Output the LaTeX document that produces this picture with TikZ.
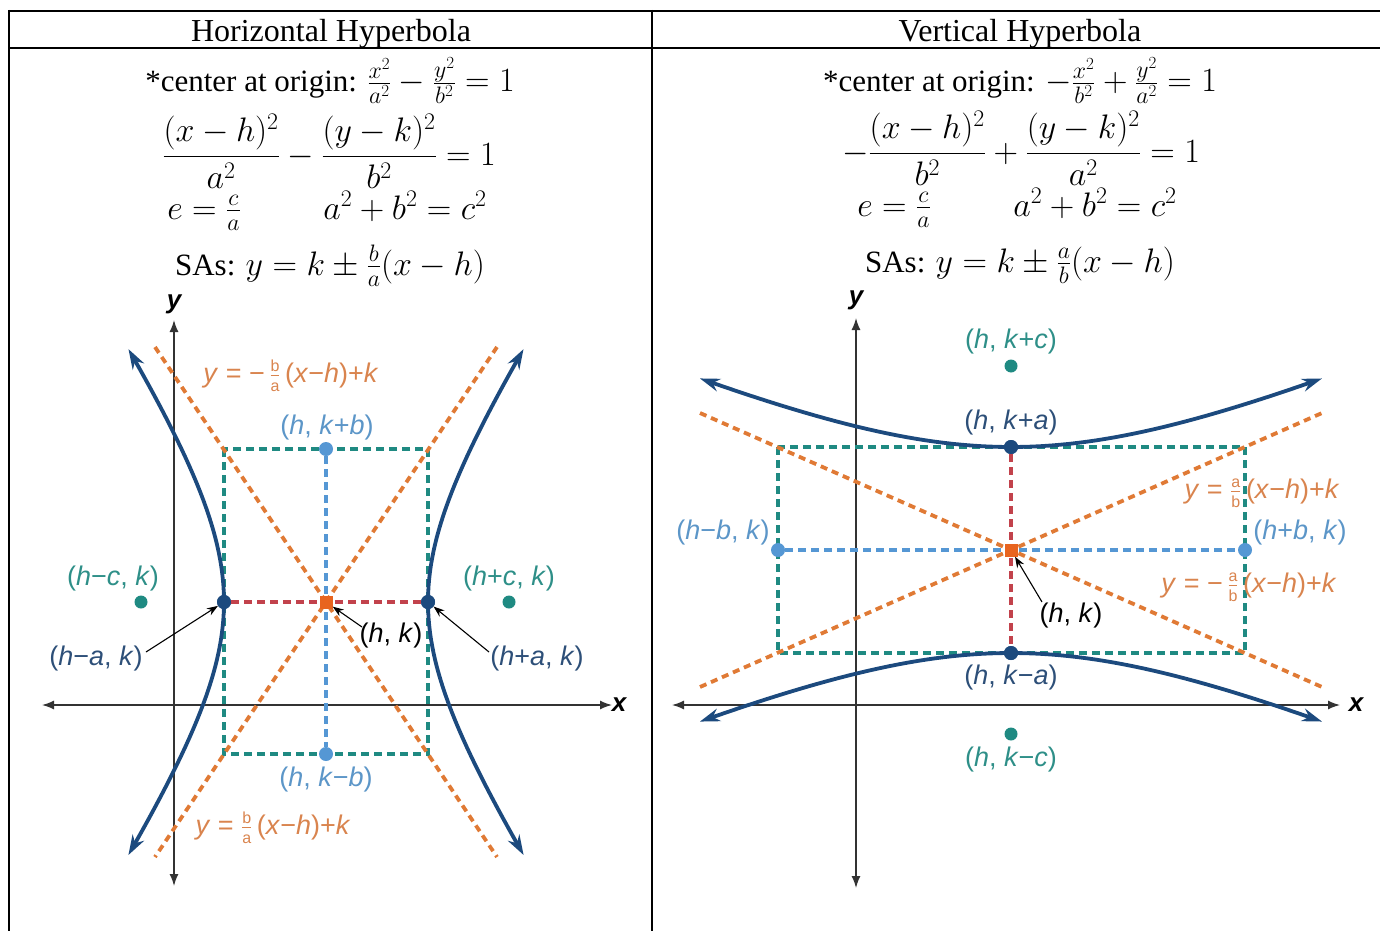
\documentclass[tikz,border=0pt]{standalone}
\usepackage{fix-cm}
\usepackage{amsmath}
\usepackage{fontspec}
\setmainfont{Liberation Serif}
\newfontfamily\lsans{Liberation Sans}
\usetikzlibrary{arrows.meta}
\definecolor{navy}{HTML}{1C4A7E}
\definecolor{orng}{HTML}{E07A35}
\definecolor{tealc}{HTML}{1F8A82}
\definecolor{lblue}{HTML}{5597D4}
\definecolor{redc}{HTML}{C2424C}
\definecolor{ctrc}{HTML}{E8641F}
\definecolor{olabel}{HTML}{D9844E}
\definecolor{tlabel}{HTML}{2E8F88}
\definecolor{blabel}{HTML}{5C96C8}
\definecolor{nlabel}{HTML}{2D4F78}
\newcommand{\asyfrac}[2]{\ensuremath{\genfrac{}{}{0.9pt}{}{\hbox{\fontsize{16}{16}\selectfont #1}}{\hbox{\fontsize{16}{16}\selectfont #2}}}}
\newcommand{\hypmath}[1]{{\fontsize{34}{40}\selectfont$#1$}}
\begin{document}
\begin{tikzpicture}[x=1pt,y=-1pt,
  body/.style={font=\fontsize{31}{36}\selectfont, inner sep=0pt, anchor=base},
  lab/.style={font=\lsans\fontsize{27}{32}\selectfont, inner sep=0pt},
  axlab/.style={font=\lsans\bfseries\itshape\fontsize{26}{30}\selectfont, inner sep=0pt},
  asym/.style={orng, line width=3.8pt, dash pattern=on 7pt off 5pt},
  boxl/.style={tealc, line width=3.2pt, dash pattern=on 8pt off 5pt},
  bline/.style={lblue, line width=3.2pt, dash pattern=on 8pt off 5pt},
  rline/.style={redc, line width=3.2pt, dash pattern=on 8pt off 5pt},
  curve/.style={navy, line width=3.8pt, {Stealth[length=20pt,width=13pt]}-{Stealth[length=20pt,width=13pt]}},
  axis/.style={black!80, line width=1.4pt, {Latex[length=12pt,width=9pt]}-{Latex[length=12pt,width=9pt]}},
  ptr/.style={black, line width=1.1pt, -{Stealth[length=11pt,width=8pt]}},
  dot/.style={circle, fill, inner sep=0pt, minimum size=14pt},
  sq/.style={rectangle, fill=ctrc, inner sep=0pt, minimum size=13pt}]
\useasboundingbox (0,0) rectangle (1380,931);
% table
\draw[line width=2pt] (8,11) -- (1380,11);
\draw[line width=2pt] (8,48) -- (1380,48);
\draw[line width=2pt] (9,10) -- (9,931);
\draw[line width=2pt] (652,10) -- (652,931);
\node[body, font=\fontsize{32}{36}\selectfont] (hH) at (331,42) {Horizontal Hyperbola};
\node[body, font=\fontsize{32}{36}\selectfont] (hV) at (1020,42) {Vertical Hyperbola};
% left formulas
\node[body] (l1) at (330,92) {*center at origin: \hypmath{\frac{x^2}{a^2}-\frac{y^2}{b^2}=1}};
\node[body] (l2) at (329,165) {\hypmath{\dfrac{(x-h)^2}{a^2}-\dfrac{(y-k)^2}{b^2}=1}};
\node[body] (l3a) at (204,219) {\hypmath{e=\frac{c}{a}}};
\node[body] (l3b) at (405,219) {\hypmath{a^2+b^2=c^2}};
\node[body] (l4) at (330,275) {SAs: \hypmath{y=k\pm\frac{b}{a}(x-h)}};
% right formulas
\node[body] (r1) at (1020,92) {*center at origin: \hypmath{-\frac{x^2}{b^2}+\frac{y^2}{a^2}=1}};
\node[body] (r2) at (1021,162) {\hypmath{-\dfrac{(x-h)^2}{b^2}+\dfrac{(y-k)^2}{a^2}=1}};
\node[body] (r3a) at (894,216) {\hypmath{e=\frac{c}{a}}};
\node[body] (r3b) at (1095,216) {\hypmath{a^2+b^2=c^2}};
\node[body] (r4) at (1020,272) {SAs: \hypmath{y=k\pm\frac{a}{b}(x-h)}};

% ===== left diagram =====
\coordinate (lxa) at (42,705); \coordinate (lxb) at (612,705);
\coordinate (lya) at (174,320); \coordinate (lyb) at (174,886);
\draw[axis] (lxa) -- (lxb);
\draw[axis] (lya) -- (lyb);
\node[axlab] (lx) at (619,705) {x};
\node[axlab] (ly) at (174,304) {y};
\draw[boxl] (224,449) rectangle (428,754);
\node[dot, lblue] (lkb) at (326,449) {};
\node[dot, lblue] (lkmb) at (326,754) {};
\draw[bline] (lkb) -- (lkmb);
\node[dot, navy] (lvl) at (224,602) {};
\node[dot, navy] (lvr) at (428,602) {};
\draw[rline] (lvl) -- (lvr);
\coordinate (la1) at (155,347); \coordinate (la2) at (497,857);
\coordinate (la3) at (497,347); \coordinate (la4) at (155,857);
\draw[asym] (la1) -- (la2);
\draw[asym] (la3) -- (la4);
\draw[curve, domain=-1.28:1.28, samples=60, variable=\t] plot ({326+102*cosh(\t)},{602-152.5*sinh(\t)});
\draw[curve, domain=-1.28:1.28, samples=60, variable=\t] plot ({326-102*cosh(\t)},{602-152.5*sinh(\t)});
\node[dot, navy] at (224,602) {};
\node[dot, navy] at (428,602) {};
\node[sq] (lc) at (326,602) {};
\node[dot, tealc, minimum size=13pt] (lfl) at (141,602) {};
\node[dot, tealc, minimum size=13pt] (lfr) at (509,602) {};
\node[lab, olabel] (las1) at (291,376) {\textit{y} = \char"2212\,\asyfrac{b}{a}\,(\textit{x}\char"2212\textit{h})+\textit{k}};
\node[lab, olabel] (las2) at (273,828) {\textit{y} = \asyfrac{b}{a}\,(\textit{x}\char"2212\textit{h})+\textit{k}};
\node[lab, blabel] (tkb) at (327,428) {(\textit{h}, \textit{k}+\textit{b})};
\node[lab, blabel] (tkmb) at (326,780) {(\textit{h}, \textit{k}\char"2212\textit{b})};
\node[lab, tlabel] (thmc) at (113,579) {(\textit{h}\char"2212\textit{c}, \textit{k})};
\node[lab, tlabel] (thpc) at (509,579) {(\textit{h}+\textit{c}, \textit{k})};
\node[lab, nlabel] (thma) at (96,659) {(\textit{h}\char"2212\textit{a}, \textit{k})};
\node[lab, nlabel] (thpa) at (537,659) {(\textit{h}+\textit{a}, \textit{k})};
\node[lab, black] (thk) at (391,636) {(\textit{h}, \textit{k})};
\coordinate (p1) at (146,652); \coordinate (p2) at (489,652); \coordinate (p3) at (362,627);
\draw[ptr] (p1) -- (lvl);
\draw[ptr] (p2) -- (lvr);
\draw[ptr] (p3) -- (lc);

% ===== right diagram =====
\coordinate (rxa) at (672,705); \coordinate (rxb) at (1340,705);
\coordinate (rya) at (856,318); \coordinate (ryb) at (856,888);
\draw[axis] (rxa) -- (rxb);
\draw[axis] (rya) -- (ryb);
\node[axlab] (rx) at (1356,705) {x};
\node[axlab] (ry) at (856,300) {y};
\draw[boxl] (778,447) rectangle (1245,653);
\node[dot, lblue] (rhb) at (778,550) {};
\node[dot, lblue] (rhpb) at (1245,550) {};
\draw[bline] (rhb) -- (rhpb);
\node[dot, navy] (rvt) at (1011,447) {};
\node[dot, navy] (rvb) at (1011,653) {};
\draw[rline] (rvt) -- (rvb);
\coordinate (ra1) at (700,413); \coordinate (ra2) at (1322,687);
\coordinate (ra3) at (700,687); \coordinate (ra4) at (1322,413);
\draw[asym] (ra1) -- (ra2);
\draw[asym] (ra3) -- (ra4);
\draw[curve, domain=-1.098:1.098, samples=60, variable=\t] plot ({1011+233.5*sinh(\t)},{550-103*cosh(\t)});
\draw[curve, domain=-1.098:1.098, samples=60, variable=\t] plot ({1011+233.5*sinh(\t)},{550+103*cosh(\t)});
\node[dot, navy] at (1011,447) {};
\node[dot, navy] at (1011,653) {};
\node[sq] (rc) at (1011,550) {};
\node[dot, tealc, minimum size=13pt] (rft) at (1011,366) {};
\node[dot, tealc, minimum size=13pt] (rfb) at (1011,734) {};
\node[lab, tlabel] (tkpc) at (1011,342) {(\textit{h}, \textit{k}+\textit{c})};
\node[lab, tlabel] (tkmc) at (1011,760) {(\textit{h}, \textit{k}\char"2212\textit{c})};
\node[lab, nlabel] (tkpa) at (1011,423) {(\textit{h}, \textit{k}+\textit{a})};
\node[lab, nlabel] (tkma) at (1011,678) {(\textit{h}, \textit{k}\char"2212\textit{a})};
\node[lab, blabel] (thmb) at (723,533) {(\textit{h}\char"2212\textit{b}, \textit{k})};
\node[lab, blabel] (thpb) at (1300,533) {(\textit{h}+\textit{b}, \textit{k})};
\node[lab, olabel] (ras1) at (1262,493) {\textit{y} = \asyfrac{a}{b}\,(\textit{x}\char"2212\textit{h})+\textit{k}};
\node[lab, olabel] (ras2) at (1249,587) {\textit{y} = \char"2212\,\asyfrac{a}{b}\,(\textit{x}\char"2212\textit{h})+\textit{k}};
\node[lab, black] (rthk) at (1071,616) {(\textit{h}, \textit{k})};
\coordinate (p4) at (1042,602);
\draw[ptr] (p4) -- (rc);
\end{tikzpicture}
\end{document}
